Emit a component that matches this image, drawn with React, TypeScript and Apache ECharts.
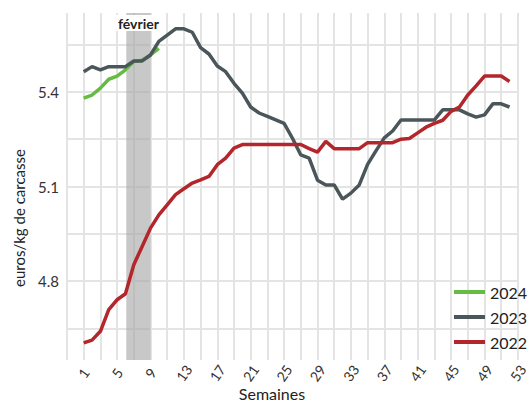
import React, { useEffect, useRef } from "react";
import * as echarts from "echarts";

const weeks: number[] = Array.from({ length: 52 }, (_, i) => i + 1);

const values2024: number[] = [5.38, 5.39, 5.412, 5.44, 5.45, 5.47, 5.496, 5.5, 5.517, 5.538];

const values2023: number[] = [
  5.464, 5.48, 5.47, 5.48, 5.48, 5.48, 5.498, 5.498, 5.517, 5.56,
  5.58, 5.6, 5.6, 5.589, 5.54, 5.52, 5.482, 5.464, 5.427, 5.396,
  5.352, 5.333, 5.322, 5.311, 5.3, 5.253, 5.2, 5.19, 5.12, 5.105,
  5.105, 5.06, 5.079, 5.105, 5.17, 5.213, 5.254, 5.276, 5.311, 5.311,
  5.311, 5.311, 5.311, 5.343, 5.343, 5.343, 5.33, 5.32, 5.327, 5.362,
  5.362, 5.352,
];

const values2022: number[] = [
  4.604, 4.613, 4.641, 4.71, 4.741, 4.76, 4.852, 4.91, 4.968, 5.01,
  5.042, 5.074, 5.093, 5.111, 5.121, 5.132, 5.169, 5.19, 5.222, 5.233,
  5.233, 5.233, 5.233, 5.233, 5.233, 5.233, 5.233, 5.22, 5.209, 5.243,
  5.22, 5.22, 5.22, 5.22, 5.239, 5.239, 5.239, 5.239, 5.25, 5.252,
  5.27, 5.288, 5.3, 5.31, 5.338, 5.352, 5.39, 5.419, 5.45, 5.45,
  5.45, 5.433,
];

const xGridWeeks: number[] = Array.from({ length: 28 }, (_, i) => -1 + 2 * i);
const xLabelWeeks: number[] = Array.from({ length: 14 }, (_, i) => 1 + 4 * i);
const yGridValues: number[] = [4.65, 4.8, 4.95, 5.1, 5.25, 5.4, 5.55];
const yLabelValues: number[] = [4.8, 5.1, 5.4];
const februaryBand: [number, number] = [6.1, 9];
const bandLabel = "février";

const seriesNames = ["2024", "2023", "2022"];
const seriesColors = ["#66bb44", "#4b565a", "#b2262c"];

const FONT = "Lato, 'Open Sans', sans-serif";
const GRID_COLOR = "#e4e4e4";

function toPairs(vals: number[]) {
  return vals.map((v, i) => [weeks[i], v]);
}

export default function App() {
  const ref = useRef<HTMLDivElement>(null);

  useEffect(() => {
    if (!ref.current) return;
    const chart = echarts.init(ref.current, null, { renderer: "svg" });
    const allValues = [values2024, values2023, values2022];

    chart.setOption({
      animation: false,
      textStyle: { fontFamily: FONT },
      grid: { left: 67, right: 4, top: 13, bottom: 44, containLabel: false },
      xAxis: {
        type: "value",
        min: -1,
        max: 53,
        axisLine: { show: false },
        axisTick: { show: false, customValues: xGridWeeks },
        splitLine: { show: true, lineStyle: { color: GRID_COLOR, width: 2 } },
        axisLabel: {
          customValues: xLabelWeeks,
          rotate: 55,
          align: "center",
          verticalAlign: "middle",
          margin: 13,
          fontSize: 14,
          color: "#333",
          fontFamily: FONT,
        },
      },
      yAxis: {
        type: "value",
        min: 4.55,
        max: 5.65,
        axisLine: { show: false },
        axisTick: {
          show: true,
          customValues: yGridValues,
          length: 5,
          lineStyle: { color: GRID_COLOR, width: 2 },
        },
        splitLine: { show: true, lineStyle: { color: GRID_COLOR, width: 2 } },
        axisLabel: {
          customValues: yLabelValues,
          formatter: (v: number) => v.toFixed(1),
          fontSize: 15,
          margin: 8,
          color: "#333",
          fontFamily: FONT,
        },
      },
      legend: {
        orient: "vertical",
        left: 449,
        top: 279,
        itemWidth: 31,
        itemHeight: 4,
        itemGap: 9,
        icon: "rect",
        data: seriesNames,
        textStyle: { fontSize: 16, color: "#222", fontFamily: FONT },
      },
      graphic: [
        {
          type: "text",
          x: 19,
          y: 218,
          rotation: Math.PI / 2,
          style: {
            text: "euros/kg de carcasse",
            fontSize: 15,
            fontFamily: FONT,
            fill: "#222",
            textAlign: "center",
            textVerticalAlign: "middle",
          },
        },
        {
          type: "text",
          x: 272,
          y: 393,
          style: {
            text: "Semaines",
            fontSize: 16,
            fontFamily: FONT,
            fill: "#222",
            textAlign: "center",
            textVerticalAlign: "middle",
          },
        },
      ],
      series: seriesNames.map((name, i) => ({
        name,
        type: "line",
        data: toPairs(allValues[i]),
        showSymbol: false,
        symbol: "none",
        lineStyle: { color: seriesColors[i], width: 3.5 },
        itemStyle: { color: seriesColors[i] },
        z: 3 + i,
        markArea:
          i === 0
            ? {
                silent: true,
                itemStyle: { color: "rgba(165,167,165,0.62)" },
                label: {
                  show: true,
                  position: "insideTop",
                  distance: 2,
                  formatter: bandLabel,
                  fontWeight: "bold",
                  fontSize: 14,
                  color: "#222",
                  fontFamily: FONT,
                  backgroundColor: "#fff",
                  padding: [1, 2],
                },
                data: [[{ xAxis: februaryBand[0] }, { xAxis: februaryBand[1] }]],
              }
            : undefined,
      })),
    });

    return () => chart.dispose();
  }, []);

  return (
    <div
      ref={ref}
      style={{ position: "absolute", left: 0, top: 0, width: 530, height: 404 }}
    />
  );
}
